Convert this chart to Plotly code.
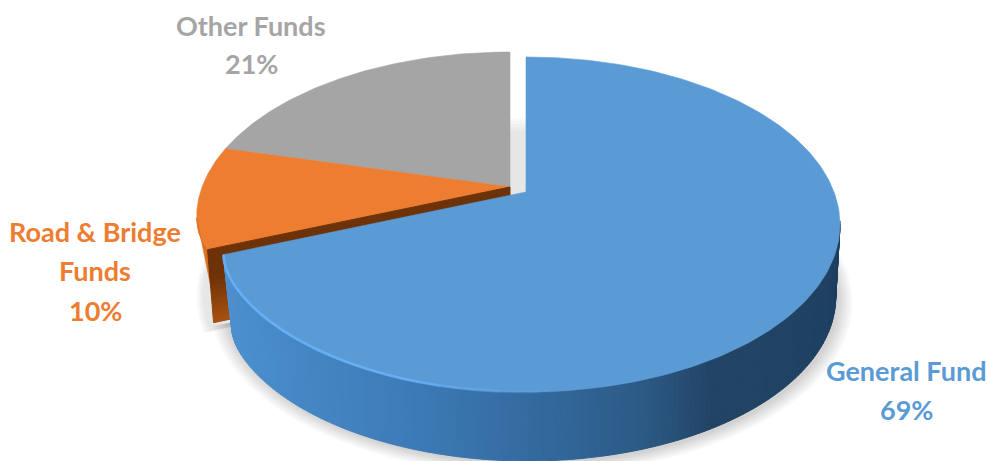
import numpy as np
import plotly.graph_objects as go

# Budget shares by fund, clockwise from twelve o'clock
fund_names = ["General Fund", "Road & Bridge Funds", "Other Funds"]
fund_shares = [69, 10, 21]
label_lines = [["General Fund"], ["Road & Bridge", "Funds"], ["Other Funds"]]
top_colors = ["#5b9bd5", "#ed7d31", "#a5a5a5"]
label_colors = ["#5b9bd5", "#ed7d31", "#a5a5a5"]
label_anchor = [(906, 370, 39), (95, 231, 39.5), (251, 25, 38)]

# Disc projection: a tilted circle seen in perspective
RX, RY, PERSP = 308.0, 161.2, 0.194
THICK, SHRINK, DRIFT = 73.0, 0.02, 2.0
slice_center = [(526, 192), (510, 187), (510, 187)]
WALL_STOPS = [(102, "#1e3f5f"), (150, "#224566"), (162, "#2c5a85"), (178, "#336a9e"),
              (200, "#3e7dba"), (230, "#4a8dcb"), (249, "#4f91d0")]


def project(theta, radius, center, level=0.0):
    t = np.radians(theta)
    u, v = radius * np.sin(t), radius * np.cos(t)
    w = 1 + PERSP * v
    s = 1 - SHRINK * level
    return center[0] + DRIFT * level + RX * u / w * s, center[1] + THICK * level - RY * v / w * s


def hex_rgb(c):
    return np.array([int(c[i:i + 2], 16) for i in (1, 3, 5)], float)


def wall_color(theta):
    th = [a for a, _ in WALL_STOPS]
    rgb = [np.interp(theta, th, [hex_rgb(c)[i] for _, c in WALL_STOPS]) for i in range(3)]
    return "rgb(%d,%d,%d)" % tuple(rgb)


def soften(theta, corner, side):
    # Slight rounding where the outer rim meets the cut face
    d = np.clip((theta - corner) * side, 0, None)
    return 1 - 0.018 * np.exp(-d / 5.0)


def poly(x, y, color, line=0.6):
    return go.Scatter(x=np.append(x, x[0]), y=np.append(y, y[0]), mode="lines", fill="toself",
                      fillcolor=color, line=dict(color=color, width=line), hoverinfo="skip",
                      showlegend=False)


edges = np.concatenate([[0], np.cumsum(fund_shares)]) * 3.6
split = edges[1]
fig = go.Figure()

# Faint shadow showing through the gap beside the detached slice
for n in range(5):
    c = slice_center[2]
    th = np.linspace(345, 378, 40)
    x, y = project(th, 1.0 + 0.03 * n, (c[0] + 3, c[1] + 3), 1.0)
    x0, y0 = project(0, 0, (c[0] + 3, c[1] + 3), 1.0)
    fig.add_trace(poly(np.append(x, x0), np.append(y, y0), "rgba(0,0,0,0.018)", 0))

# Soft ground shadow below the blue and orange slices, fading out around the orange foot
for n in range(9):
    grow = 1.0 + 0.0055 * n
    th = np.linspace(edges[0], edges[1] + 2.5, 120)
    c = (slice_center[0][0] + 3, slice_center[0][1] + 3)
    x, y = project(th, grow, c, 1.0)
    x0, y0 = project(0, 0, c, 1.0)
    fig.add_trace(poly(np.append(x, x0), np.append(y, y0), "rgba(0,0,0,0.02)", 0))
for n in range(6):
    grow = 1.0 + 0.004 * n
    th = np.linspace(edges[1] - 2, edges[2] + 2, 60)
    c = (slice_center[1][0] - 2, slice_center[1][1] + 3)
    x, y = project(th, grow, c, 1.0)
    x0, y0 = project(0, 0, c, 1.0)
    fig.add_trace(poly(np.append(x, x0), np.append(y, y0), "rgba(0,0,0,0.016)", 0))

# Grey and orange tops
for i in (2, 1):
    th = np.linspace(edges[i], edges[i + 1], 90)
    r = soften(th, split, 1) if i == 1 else np.ones_like(th)
    x, y = project(th, r, slice_center[i])
    x0, y0 = project(0, 0, slice_center[i])
    fig.add_trace(poly(np.append(x, x0), np.append(y, y0), top_colors[i]))

# Orange rim, tapering inwards towards its foot
c = slice_center[1]
th = np.linspace(split, split + 11, 14)
r = soften(th, split, 1)
x1, y1 = project(th, r, c)
x2, y2 = project(th, r - 0.022, c, 1.0)
fig.add_trace(poly(np.concatenate([x1, x2[::-1]]), np.concatenate([y1, y2[::-1]]), "#d9701f"))

# Orange cut face, dark brown, a little warmer towards its foot
xo, yo = project(split, soften(split, split, 1), c)
xa, ya = project(0, 0, c)
bands = 16
face_dark, face_warm = hex_rgb("#6e3208"), hex_rgb("#ab5310")
for k in range(bands):
    l0, l1 = k / bands, (k + 1) / bands
    mix = face_dark + (face_warm - face_dark) * max(0.0, l0 - 0.35) / 0.65
    col = "rgb(%d,%d,%d)" % tuple(mix)
    fig.add_trace(poly(np.array([xa, xo + 6 * l0, xo + 6 * l1, xa]),
                       np.array([ya + THICK * l0, yo + THICK * l0, yo + THICK * l1, ya + THICK * l1]), col, 1.0))

# Blue rim, from deep shade on the right to lit blue on the left
c = slice_center[0]
for t0 in np.arange(100, split, 1.0):
    th = np.linspace(t0, min(t0 + 1.0, split), 3)
    r = soften(th, split, -1)
    x1, y1 = project(th, r, c)
    x2, y2 = project(th, r, c, 1.0)
    fig.add_trace(poly(np.concatenate([x1, x2[::-1]]), np.concatenate([y1, y2[::-1]]), wall_color(t0 + 0.5), 1.0))

# Blue top
th = np.linspace(0, split, 240)
r = soften(th, split, -1)
x, y = project(th, r, c)
x0, y0 = project(0, 0, c)
fig.add_trace(poly(np.append(x, x0), np.append(y, y0), top_colors[0]))

# Bright bevel along the lit part of the blue rim
for t0 in np.arange(172, split, 3.0):
    th = np.linspace(t0, min(t0 + 3.0, split), 4)
    x, y = project(th, soften(th, split, -1), c)
    a = min(1.0, (t0 - 172) / 25)
    col = "rgba(104,176,247,%.2f)" % (0.95 * a)
    fig.add_trace(go.Scatter(x=x, y=y, mode="lines", line=dict(color=col, width=2.6),
                             hoverinfo="skip", showlegend=False))

# Labels, one text line each, with the share on the last line
for lines, share, col, (lx, ly, gap) in zip(label_lines, fund_shares, label_colors, label_anchor):
    for j, text in enumerate(lines + ["%d%%" % share]):
        fig.add_annotation(x=lx, y=ly + gap * j, text=text, showarrow=False, xref="x", yref="y",
                           font=dict(family="Lato", size=27, color=col, weight="bold"))

fig.update_layout(width=987, height=461, margin=dict(l=0, r=0, t=0, b=0), showlegend=False,
                  paper_bgcolor="white", plot_bgcolor="white",
                  xaxis=dict(range=[0, 987], visible=False, fixedrange=True),
                  yaxis=dict(range=[461, 0], visible=False, fixedrange=True))
fig.write_html("out.html", config=dict(displayModeBar=False))
